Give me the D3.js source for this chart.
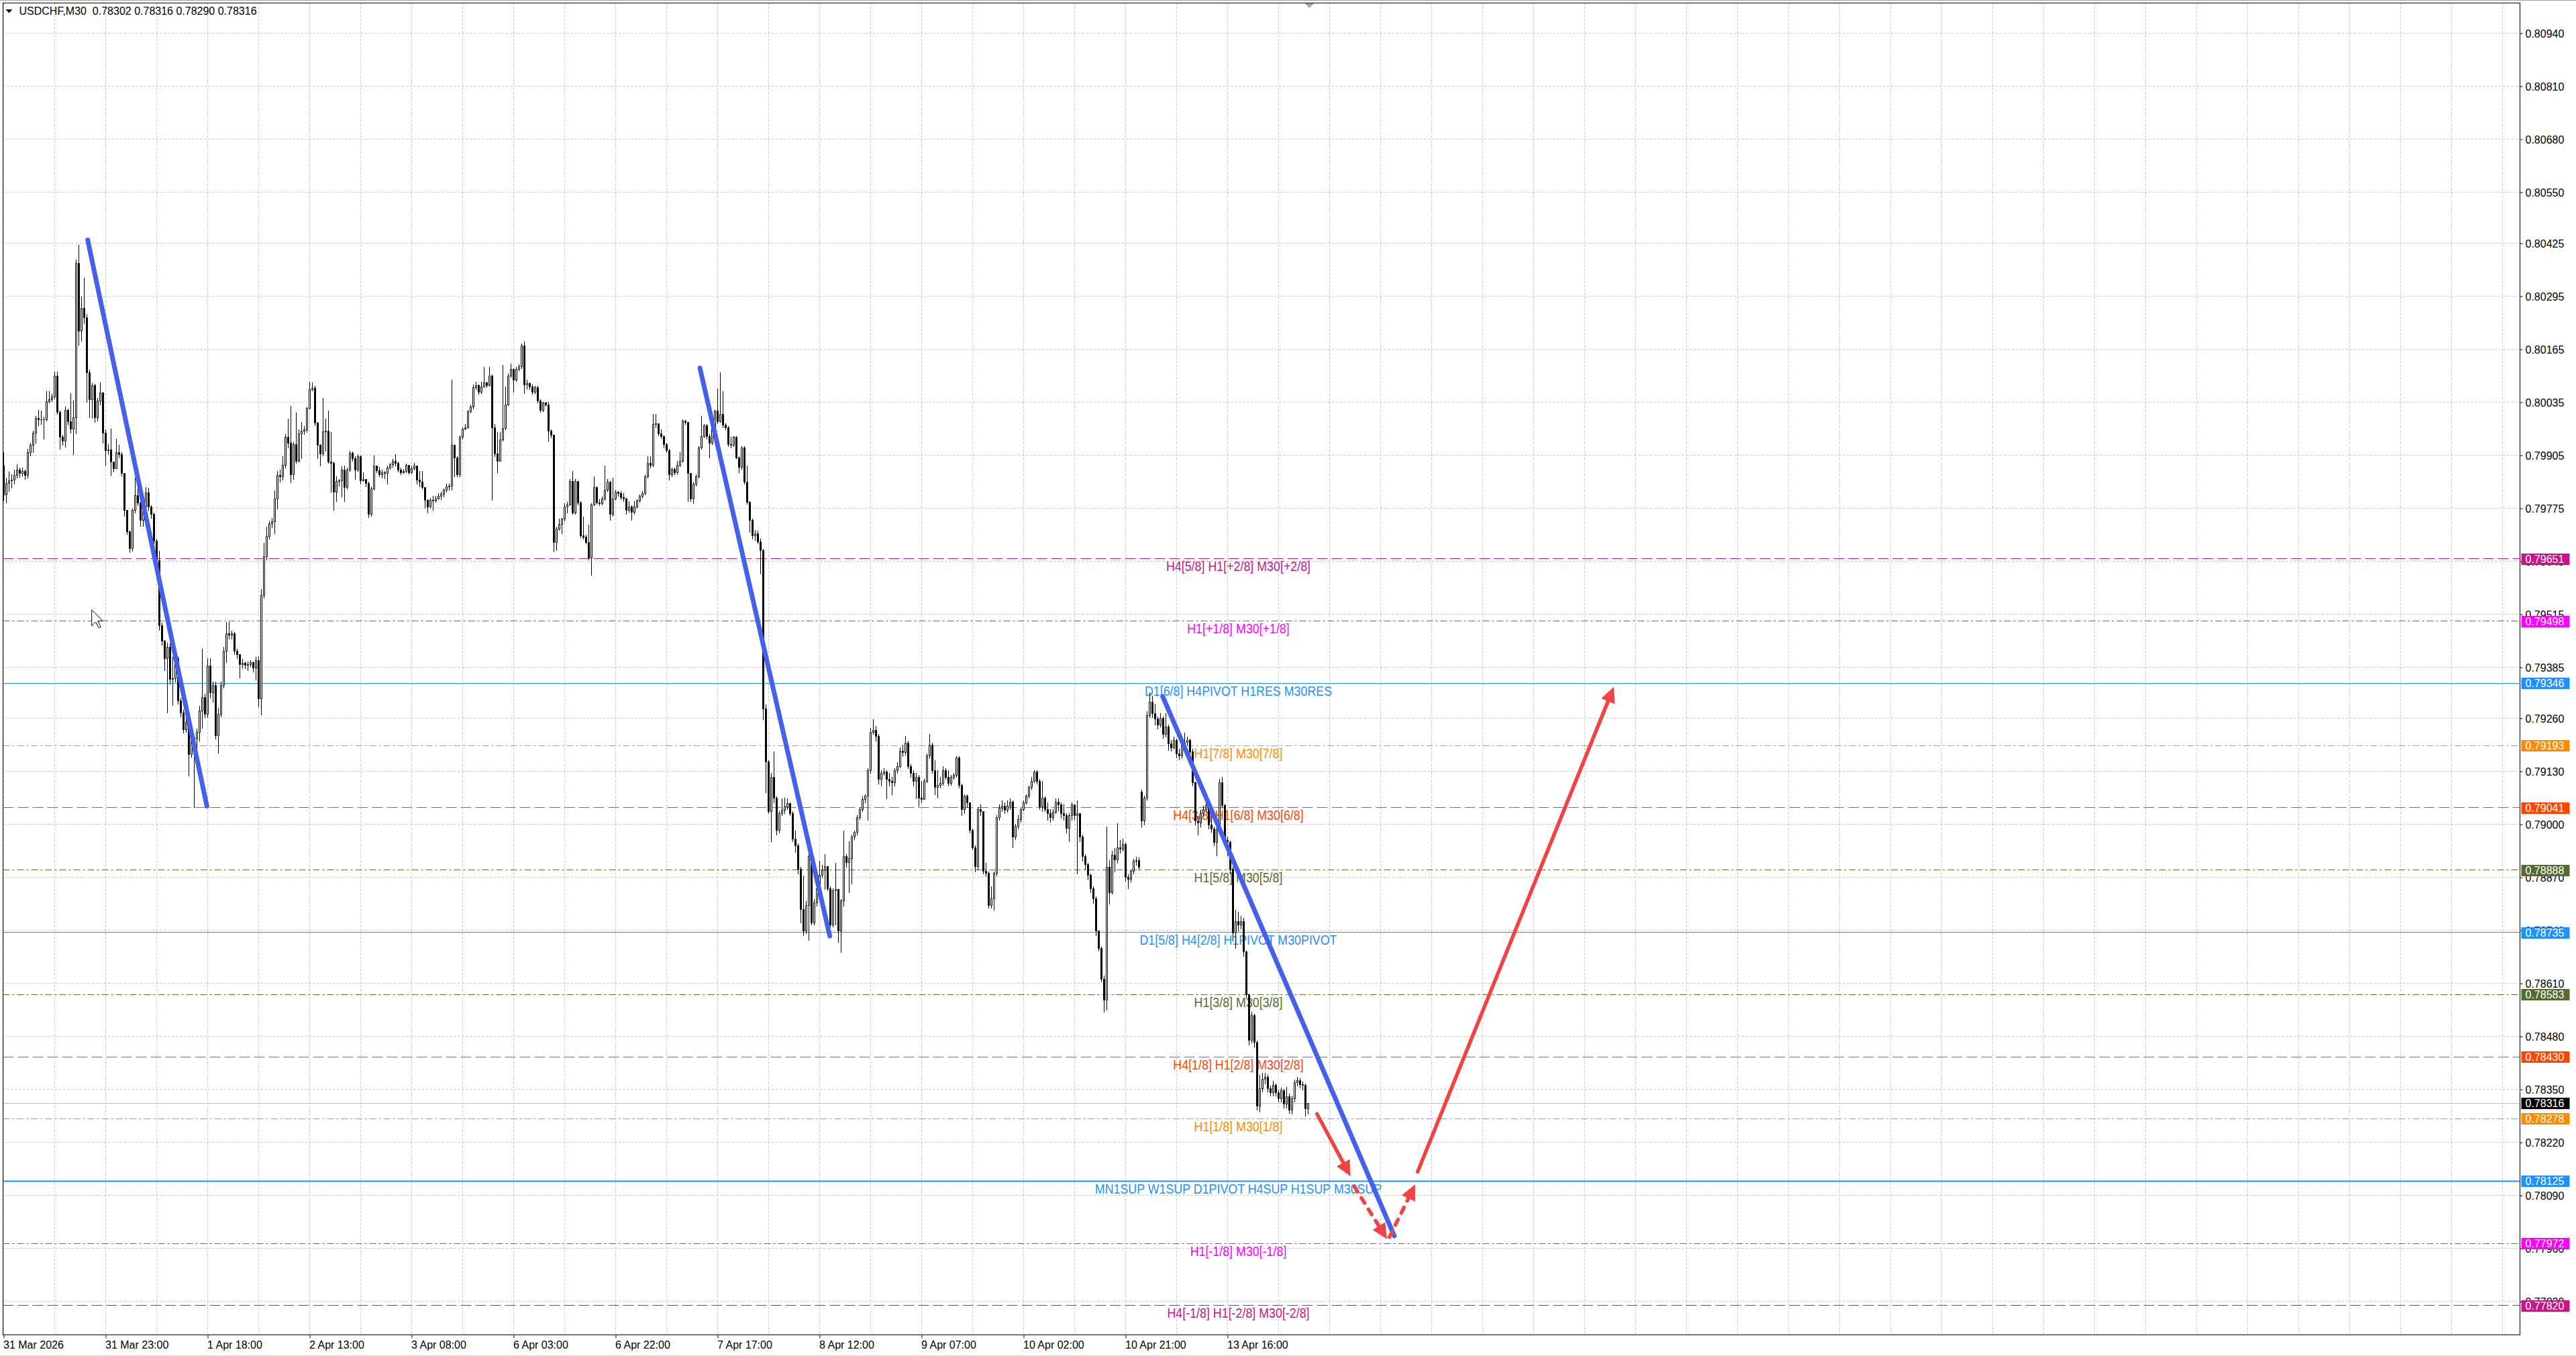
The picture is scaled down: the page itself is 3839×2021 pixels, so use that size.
<!DOCTYPE html>
<html>
<head>
<meta charset="utf-8">
<script src="https://cdnjs.cloudflare.com/ajax/libs/d3/7.8.5/d3.min.js"></script>
<style>
html, body { margin: 0; padding: 0; background: #fff; }
svg { display: block; }
text { font-family: "Liberation Sans", Arial, sans-serif; }
</style>
</head>
<body>
<svg id="chart" width="3839" height="2021"></svg>
<script>
// USDCHF M30 candles, prices in points (1 point = 0.00001)
// open of a bar = close of the bar before, except where a gap is listed
const closePts = [
79808,79836,79842,79845,79855,79869,79860,79866,79855,79912,
79929,79959,79995,79992,79992,79992,80036,80042,80048,80100,
80011,79949,79940,80015,79987,79970,79997,80376,80209,80266,
80242,80108,80042,80077,79997,80039,80058,79959,79916,79919,
79888,79872,79912,79907,79860,79770,79718,79676,79770,79806,
79789,79746,79779,79813,79779,79761,79695,79647,79487,79449,
79407,79435,79355,79357,79407,79303,79274,79232,79251,79171,
79213,79210,79225,79279,79312,79270,79388,79322,79340,79218,
79270,79340,79425,79468,79465,79468,79425,79416,79392,79395,
79390,79392,79396,79383,79402,79308,79562,79657,79706,79737,
79742,79798,79855,79852,79880,79949,79935,79858,79932,79891,
79957,79965,79968,80020,80067,80069,79984,79930,79908,79962,
79965,79889,79886,79815,79841,79842,79869,79826,79869,79910,
79897,79869,79902,79842,79846,79836,79760,79823,79878,79867,
79858,79863,79861,79874,79882,79891,79886,79869,79863,79865,
79880,79863,79872,79879,79845,79839,79826,79795,79779,79795,
79793,79799,79804,79809,79819,79828,79830,79929,79898,79857,
79949,79970,79973,80012,80023,80071,80076,80060,80073,80083,
80076,80099,79973,79908,79891,79943,79971,80028,80099,80115,
80090,80115,80122,80173,80078,80082,80073,80060,80071,80038,
80016,80034,80028,79964,79954,79691,79724,79735,79749,79779,
79784,79841,79764,79841,79788,79708,79705,79691,79653,79784,
79826,79788,79786,79798,79820,79839,79760,79798,79815,79812,
79801,79798,79771,79779,79765,79779,79793,79804,79812,79853,
79885,79880,79980,79982,79957,79952,79931,79916,79858,79870,
79863,79880,79891,79989,79986,79861,79798,79834,79853,79923,
79952,79978,79952,79935,79973,80013,79987,80006,79979,79972,
79932,79930,79949,79899,79875,79924,79839,79790,79746,79708,
79713,79693,79672,79284,79153,79032,79116,79064,78985,79027,
79034,79043,79051,79027,78964,78948,78890,78791,78738,78801,
78922,78759,78807,78843,78875,78887,78896,78843,78754,78838,
78841,78738,78812,78922,78906,78917,78969,78980,79016,79037,
79061,79069,79132,79226,79231,79216,79111,79126,79129,79111,
79106,79103,79132,79142,79179,79177,79200,79142,79126,79106,
79116,79064,79061,79106,79168,79195,79132,79090,79095,79100,
79132,79116,79100,79116,79120,79163,79095,79037,79069,79053,
78985,78943,78896,79037,79032,78885,78880,78801,78817,78880,
79016,79040,79045,79034,79045,79055,78969,78995,79011,79037,
79053,79069,79090,79106,79129,79106,79043,79064,79037,79027,
79016,79030,79055,79048,79027,79022,78990,79022,79048,79022,
79027,78969,78922,78901,78875,78843,78817,78738,78696,78621,
78569,78895,78833,78925,78913,78942,78940,78951,78871,78866,
78885,78909,78912,78895,79008,79064,79267,79300,79272,79258,
79244,79261,79220,79239,79197,79187,79206,79173,79168,79192,
79201,79206,79178,79102,79008,79003,79027,79036,79046,78998,
78989,78956,78989,79102,79046,78961,78956,78890,78734,78762,
78753,78762,78687,78583,78470,78531,78465,78309,78352,78375,
78380,78352,78342,78361,78342,78328,78347,78314,78333,78300,
78328,78366,78371,78362,78361,78302,78316
];

const highPts = [
79912,79850,79865,79858,79870,79883,79875,79874,79870,79921,
79935,79965,80001,80017,80015,80000,80063,80063,80055,80110,
80110,80015,79955,80025,80020,80058,80039,80384,80421,80294,
80341,80251,80115,80082,80080,80045,80083,80060,79968,79932,
79970,79890,79945,79931,79912,79862,79770,79720,79775,79850,
79836,79795,79790,79827,79825,79783,79765,79700,79670,79495,
79452,79445,79444,79411,79420,79410,79310,79280,79262,79251,
79225,79215,79235,79290,79430,79320,79407,79407,79350,79350,
79285,79350,79435,79496,79496,79475,79472,79430,79418,79405,
79400,79400,79402,79400,79410,79411,79577,79690,79730,79745,
79752,79819,79866,79870,79902,79957,79995,80026,79938,80009,
79968,79987,79976,80023,80086,80083,80075,79987,79932,80045,
79995,80015,79962,79889,79853,79847,79878,79880,79875,79916,
79914,79902,79908,79905,79864,79847,79840,79828,79905,79880,
79876,79869,79867,79880,79886,79896,79908,79889,79875,79872,
79885,79881,79880,79886,79880,79867,79867,79820,79798,79801,
79806,79806,79812,79815,79823,79836,79835,80091,79931,79902,
79954,79973,79982,80017,80029,80078,80086,80078,80086,80121,
80086,80121,80104,79982,79962,79962,80127,80073,80105,80130,
80119,80121,80128,80179,80184,80091,80084,80078,80076,80075,
80042,80036,80036,80036,79968,79953,79730,79749,79752,79787,
79790,79847,79867,79847,79842,79793,79754,79710,79735,79787,
79853,79828,79798,79804,79880,79847,79842,79850,79820,79817,
79817,79812,79801,79793,79782,79793,79798,79809,79817,79856,
79902,79902,80006,80006,79984,79969,79954,79935,79921,79875,
79875,79891,79913,79993,79991,79984,79861,79838,79858,79927,
80001,79982,79982,79957,80012,80017,80069,80108,80062,79984,
79976,79950,79952,79952,79902,79927,79927,79880,79793,79749,
79722,79720,79700,79675,79294,79158,79126,79179,79069,79032,
79064,79066,79064,79053,79032,78985,78953,78896,78875,78812,
78927,78922,78817,78848,78911,78901,78927,78890,78848,78843,
78906,78841,78817,78985,78927,78959,78974,78985,79022,79043,
79069,79074,79137,79237,79258,79242,79221,79132,79137,79132,
79126,79116,79137,79153,79189,79195,79216,79205,79148,79132,
79126,79121,79106,79111,79174,79221,79200,79158,79132,79116,
79142,79137,79132,79121,79126,79168,79168,79100,79074,79074,
79053,78990,78948,79043,79048,79011,78906,78885,78848,78885,
79022,79048,79058,79053,79058,79064,79058,79001,79022,79043,
79058,79074,79095,79116,79132,79132,79111,79106,79069,79053,
79037,79037,79064,79064,79053,79048,79027,79027,79053,79048,
79058,79027,78974,78927,78906,78880,78848,78824,78740,78700,
78630,78994,78913,78935,78942,79003,78961,78965,78955,78878,
78890,78915,78920,78918,79085,79070,79277,79324,79315,79296,
79265,79272,79265,79272,79245,79207,79215,79210,79185,79200,
79225,79215,79210,79185,79105,79020,79035,79045,79055,79050,
79046,78995,78995,79112,79116,79050,78970,78960,78895,78791,
78786,78775,78770,78690,78585,78540,78535,78470,78385,78390,
78390,78385,78360,78371,78365,78350,78355,78352,78356,78340,
78335,78375,78380,78378,78370,78365,78316
];

const lowPts = [
79794,79789,79817,79826,79835,79850,79852,79855,79846,79850,
79905,79912,79935,79978,79982,79945,79990,80034,80038,80044,
80006,79921,79930,79926,79980,79961,79907,79959,80176,80185,
80228,80036,79998,79997,79987,79990,80030,79935,79881,79910,
79857,79865,79874,79900,79855,79756,79712,79668,79671,79765,
79782,79732,79732,79775,79770,79752,79688,79640,79477,79440,
79378,79275,79345,79293,79350,79295,79265,79225,79227,79119,
79165,79043,79185,79205,79237,79262,79262,79310,79300,79210,
79175,79265,79335,79397,79455,79455,79418,79408,79359,79385,
79382,79378,79388,79375,79355,79289,79270,79555,79650,79700,
79728,79713,79775,79840,79845,79875,79924,79839,79847,79886,
79889,79897,79957,79962,80020,80064,79979,79897,79880,79905,
79916,79886,79815,79771,79793,79831,79804,79793,79823,79867,
79891,79847,79867,79836,79841,79828,79753,79757,79820,79863,
79853,79850,79849,79836,79872,79876,79880,79865,79858,79861,
79863,79860,79861,79869,79836,79828,79823,79776,79765,79776,
79771,79790,79797,79798,79804,79815,79821,79820,79853,79853,
79853,79946,79968,79971,80009,80020,80068,80056,80057,80072,
80072,80075,79795,79902,79864,79891,79941,79968,80028,80097,
80061,80087,80113,80119,80057,80069,80067,80056,80058,80035,
80012,80013,80026,79941,79949,79669,79672,79721,79713,79745,
79764,79783,79761,79762,79784,79704,79701,79689,79650,79612,
79782,79786,79782,79784,79795,79817,79746,79757,79795,79806,
79798,79793,79762,79766,79746,79762,79776,79790,79801,79809,
79850,79875,79878,79973,79954,79947,79924,79913,79845,79853,
79858,79860,79878,79889,79982,79793,79793,79787,79831,79850,
79920,79949,79946,79899,79932,79967,79984,79986,79973,79969,
79927,79924,79927,79897,79864,79872,79836,79786,79716,79700,
79697,79688,79615,79258,79079,79027,78959,79053,78974,78980,
79022,79027,79037,79022,78959,78932,78880,78759,78728,78733,
78717,78754,78754,78801,78838,78870,78841,78838,78749,78749,
78754,78712,78686,78801,78896,78833,78854,78964,78974,79013,
79032,79053,79011,79126,79221,79205,79100,79095,79121,79064,
79095,79074,79095,79126,79139,79168,79171,79137,79116,79095,
79064,79045,79053,79085,79103,79163,79126,79074,79066,79090,
79097,79111,79095,79097,79111,79116,79090,79022,79027,79043,
78980,78938,78885,78890,79022,78880,78875,78796,78796,78791,
78875,79011,79032,79027,79030,79037,78943,78964,78990,79006,
79034,79051,79066,79087,79103,79100,79037,79032,79032,79011,
79006,79011,79027,79034,79016,79011,78980,78959,79011,79013,
78880,78959,78911,78890,78864,78833,78807,78728,78690,78615,
78541,78545,78805,78830,78885,78905,78930,78935,78862,78843,
78860,78880,78900,78890,78995,79000,79060,79262,79262,79244,
79235,79240,79212,79215,79182,79180,79185,79164,79159,79162,
79188,79195,79170,79095,79000,78975,78995,79020,79030,78990,
78982,78948,78923,78980,79040,78950,78923,78880,78715,78696,
78740,78745,78677,78575,78460,78465,78455,78300,78295,78345,
78365,78345,78335,78335,78335,78320,78320,78305,78305,78292,
78290,78320,78360,78355,78350,78286,78290
];

const gapBars = [0, 424];
const gapOpens = [79881, 79079];

// time axis: one label every 38 bars (19 hours)
const timeLabels = ["31 Mar 2026", "31 Mar 23:00", "1 Apr 18:00", "2 Apr 13:00", "3 Apr 08:00",
  "6 Apr 03:00", "6 Apr 22:00", "7 Apr 17:00", "8 Apr 12:00", "9 Apr 07:00",
  "10 Apr 02:00", "10 Apr 21:00", "13 Apr 16:00"];
const barsPerLabel = 38;

const priceTicks = [0.80940, 0.80810, 0.80680, 0.80550, 0.80425, 0.80295, 0.80165, 0.80035,
  0.79905, 0.79775, 0.79645, 0.79515, 0.79385, 0.79260, 0.79130, 0.79000, 0.78870,
  0.78740, 0.78610, 0.78480, 0.78350, 0.78220, 0.78090, 0.77960, 0.77830];

// Murrey / pivot levels
const levelPrices = [0.79651, 0.79498, 0.79346, 0.79193, 0.79041, 0.78888, 0.78735,
  0.78583, 0.78430, 0.78278, 0.78125, 0.77972, 0.77820];
const levelNames = ["H4[5/8] H1[+2/8] M30[+2/8]", "H1[+1/8] M30[+1/8]",
  "D1[6/8] H4PIVOT H1RES M30RES", "H1[7/8] M30[7/8]", "H4[3/8] H1[6/8] M30[6/8]",
  "H1[5/8] M30[5/8]", "D1[5/8] H4[2/8] H1PIVOT M30PIVOT", "H1[3/8] M30[3/8]",
  "H4[1/8] H1[2/8] M30[2/8]", "H1[1/8] M30[1/8]", "MN1SUP W1SUP D1PIVOT H4SUP H1SUP M30SUP",
  "H1[-1/8] M30[-1/8]", "H4[-1/8] H1[-2/8] M30[-2/8]"];
const levelKinds = ["h4", "h1", "pivot", "h1o", "h4o", "olive", "pivot", "olive", "h4o", "h1o",
  "sup", "h1", "h4"];
const labelBar = 460;

// drawn trend lines and forecast arrows: [bar, price]
const trendFrom = [[31.3, 0.80433], [259.4, 0.80119], [431.8, 0.79314]];
const trendTo = [[75.7, 0.79045], [307.8, 0.78726], [518.1, 0.77991]];
const arrowFrom = [[489.3, 0.78290], [503.2, 0.78112], [516.3, 0.77988], [526.8, 0.78148]];
const arrowTo = [[501.8, 0.78137], [515.4, 0.77983], [525.9, 0.78117], [599.9, 0.79337]];
const arrowDashed = [false, true, true, false];

// ---------- styles ----------
const kindStyle = {
  h4:    {color: "#C71585", dash: "16,6", width: 1},
  h1:    {color: "#FF00FF", dash: "10,4,3,4", width: 1},
  pivot: {color: "#1E90FF", dash: null, width: 1},
  h1o:   {color: "#FF8C00", dash: "10,4,3,4", width: 1},
  h4o:   {color: "#FF4500", dash: "16,6", width: 1},
  olive: {color: "#556B2F", dash: "10,4,3,4", width: 1},
  sup:   {color: "#1E90FF", dash: null, width: 2}
};
const gridColor = "#c0c0c0";
const trendColor = "#4660ee";
const arrowColor = "#f24343";

const frame = {left: 4.5, top: 4.5, right: 3755.5, bottom: 1989.5};
const svg = d3.select("#chart");

const x = d3.scaleLinear().domain([0, 937]).range([5.5, 3753.5]);
const y = d3.scaleLinear().domain([0.777482, 0.810124]).range([1989.5, 5.5]);
const crisp = v => Math.floor(v) + 0.5;
const fmt = d3.format(".5f");

// window edges
svg.append("rect").attr("width", 3839).attr("height", 2021).attr("fill", "#fff");
svg.append("line").attr("x1", 0).attr("x2", 3839).attr("y1", 0.5).attr("y2", 0.5).attr("stroke", "#a0a0a0");
svg.append("line").attr("x1", 0).attr("x2", 3839).attr("y1", 2020.5).attr("y2", 2020.5).attr("stroke", "#d8d8d8");

// grid
const grid = svg.append("g");
const gridBars = d3.range(0, 937, 19).filter(b => x(b) < frame.right);
grid.selectAll("line.v").data(gridBars).join("line")
  .attr("x1", d => x(d)).attr("x2", d => x(d))
  .attr("y1", frame.top).attr("y2", frame.bottom)
  .attr("stroke", gridColor).attr("stroke-dasharray", "3,3");
grid.selectAll("line.h").data(priceTicks).join("line")
  .attr("x1", frame.left).attr("x2", frame.right)
  .attr("y1", d => crisp(y(d))).attr("y2", d => crisp(y(d)))
  .attr("stroke", gridColor).attr("stroke-dasharray", "3,3");

// level lines
const levels = levelPrices.map((p, i) => ({p, name: levelNames[i], st: kindStyle[levelKinds[i]]}));
const lv = svg.append("g");
lv.selectAll("line").data(levels).join("line")
  .attr("x1", frame.left).attr("x2", frame.right)
  .attr("y1", d => crisp(y(d.p))).attr("y2", d => crisp(y(d.p)))
  .attr("stroke", d => d.st.color)
  .attr("stroke-width", d => d.st.width)
  .attr("stroke-dasharray", d => d.st.dash);

// bid line
const lastClose = closePts[closePts.length - 1] / 1e5;
svg.append("line").attr("x1", frame.left).attr("x2", frame.right)
  .attr("y1", crisp(y(lastClose))).attr("y2", crisp(y(lastClose)))
  .attr("stroke", "#c0c0c0");

// level captions
lv.selectAll("text").data(levels).join("text")
  .attr("transform", d => `translate(${x(labelBar)},${crisp(y(d.p)) + 18}) scale(0.85,1)`)
  .attr("text-anchor", "middle")
  .attr("font-size", 21)
  .attr("fill", d => d.st.color)
  .text(d => d.name);

// candles
const n = Math.min(closePts.length, highPts.length, lowPts.length);
const bars = d3.range(n).map(i => {
  const g = gapBars.indexOf(i);
  const o = g >= 0 ? gapOpens[g] : closePts[i - 1];
  return {i, o: o / 1e5, h: highPts[i] / 1e5, l: lowPts[i] / 1e5, c: closePts[i] / 1e5};
});
const cg = svg.append("g");
cg.selectAll("line").data(bars).join("line")
  .attr("x1", d => x(d.i)).attr("x2", d => x(d.i))
  .attr("y1", d => Math.round(y(d.h))).attr("y2", d => Math.round(y(d.l)) + 1)
  .attr("stroke", "#000");
cg.selectAll("path").data(bars).join("path")
  .attr("d", d => {
    const cx = x(d.i);
    const t = crisp(y(Math.max(d.o, d.c)));
    const b = crisp(y(Math.min(d.o, d.c)));
    return `M${cx - 1},${t}H${cx + 1}V${b}H${cx - 1}Z`;
  })
  .attr("fill", d => d.c >= d.o ? "#fff" : "#000")
  .attr("stroke", "#000");

// trend lines
svg.append("g").selectAll("line").data(trendFrom).join("line")
  .attr("x1", d => x(d[0])).attr("y1", d => y(d[1]))
  .attr("x2", (d, i) => x(trendTo[i][0])).attr("y2", (d, i) => y(trendTo[i][1]))
  .attr("stroke", trendColor).attr("stroke-width", 7).attr("stroke-linecap", "round");

// arrows
const ag = svg.append("g");
arrowFrom.forEach((f, i) => {
  const x1 = x(f[0]), y1 = y(f[1]), x2 = x(arrowTo[i][0]), y2 = y(arrowTo[i][1]);
  const len = Math.hypot(x2 - x1, y2 - y1), ux = (x2 - x1) / len, uy = (y2 - y1) / len;
  const hl = 23, hw = 11;
  const bx = x2 - ux * hl, by = y2 - uy * hl;
  ag.append("line")
    .attr("x1", x1).attr("y1", y1).attr("x2", bx + ux * 3).attr("y2", by + uy * 3)
    .attr("stroke", arrowColor).attr("stroke-width", 5.5).attr("stroke-linecap", "round")
    .attr("stroke-dasharray", arrowDashed[i] ? "9,11" : null);
  ag.append("path")
    .attr("d", `M${x2},${y2}L${bx - uy * hw},${by + ux * hw}L${bx + uy * hw},${by - ux * hw}Z`)
    .attr("fill", arrowColor);
});

// frame
svg.append("rect")
  .attr("x", frame.left).attr("y", frame.top)
  .attr("width", frame.right - frame.left).attr("height", frame.bottom - frame.top)
  .attr("fill", "none").attr("stroke", "#000");

// time axis
const xAxis = d3.axisBottom(x)
  .tickValues(timeLabels.map((d, i) => i * barsPerLabel))
  .tickFormat((d, i) => timeLabels[i])
  .tickSize(5).tickSizeOuter(0);
const gx = svg.append("g").attr("transform", `translate(0,${frame.bottom})`).call(xAxis);
gx.select(".domain").remove();
gx.attr("font-family", null).attr("font-size", null);
gx.selectAll(".tick line").attr("stroke", "#000");
gx.selectAll(".tick text")
  .attr("text-anchor", "start").attr("x", -1).attr("y", 20.5).attr("dy", null)
  .attr("font-size", 16).attr("fill", "#000");

// price axis
const yAxis = d3.axisRight(y).tickValues(priceTicks).tickFormat(fmt).tickSize(4).tickPadding(4);
const gy = svg.append("g").attr("transform", `translate(${frame.right},0)`).call(yAxis);
gy.select(".domain").remove();
gy.attr("font-family", null).attr("font-size", null);
gy.selectAll(".tick line").attr("stroke", "#000");
gy.selectAll(".tick text").attr("font-size", 16).attr("fill", "#000").attr("dy", "0.36em");

// level price tags on the axis
const tags = levels.map(d => ({p: d.p, color: d.st.color}))
  .concat([{p: lastClose, color: "#000"}]);
const tg = svg.append("g");
tg.selectAll("rect").data(tags).join("rect")
  .attr("x", frame.right + 2).attr("width", 72)
  .attr("y", d => Math.round(y(d.p)) - 8).attr("height", 17)
  .attr("fill", d => d.color);
tg.selectAll("text").data(tags).join("text")
  .attr("x", frame.right + 8).attr("y", d => Math.round(y(d.p)) + 6)
  .attr("font-size", 16).attr("fill", "#fff")
  .text(d => fmt(d.p));

// chart shift marker
const sx = x(n - 0.5);
svg.append("path").attr("d", `M${sx - 7},5L${sx + 7},5L${sx},12Z`).attr("fill", "#a8a8a8");

// title
const last = bars[n - 1];
svg.append("path").attr("d", "M8.5,14L18.5,14L13.5,19.5Z").attr("fill", "#000");
svg.append("text").attr("x", 28.5).attr("y", 22).attr("font-size", 16)
  .style("white-space", "pre")
  .text(`USDCHF,M30  ${fmt(last.o)} ${fmt(last.h)} ${fmt(last.l)} ${fmt(last.c)}`);

// mouse pointer left on the chart
const px = x(32.8), py = y(0.79526);
const ptr = [[0, 0], [0, 24], [6, 18], [10.5, 27], [13.5, 25.5], [9, 16.5], [16.5, 16.5]];
svg.append("path")
  .attr("d", "M" + ptr.map(p => `${px + p[0]},${py + p[1]}`).join("L") + "Z")
  .attr("fill", "#fff").attr("stroke", "#000").attr("stroke-width", 1);
</script>
</body>
</html>
